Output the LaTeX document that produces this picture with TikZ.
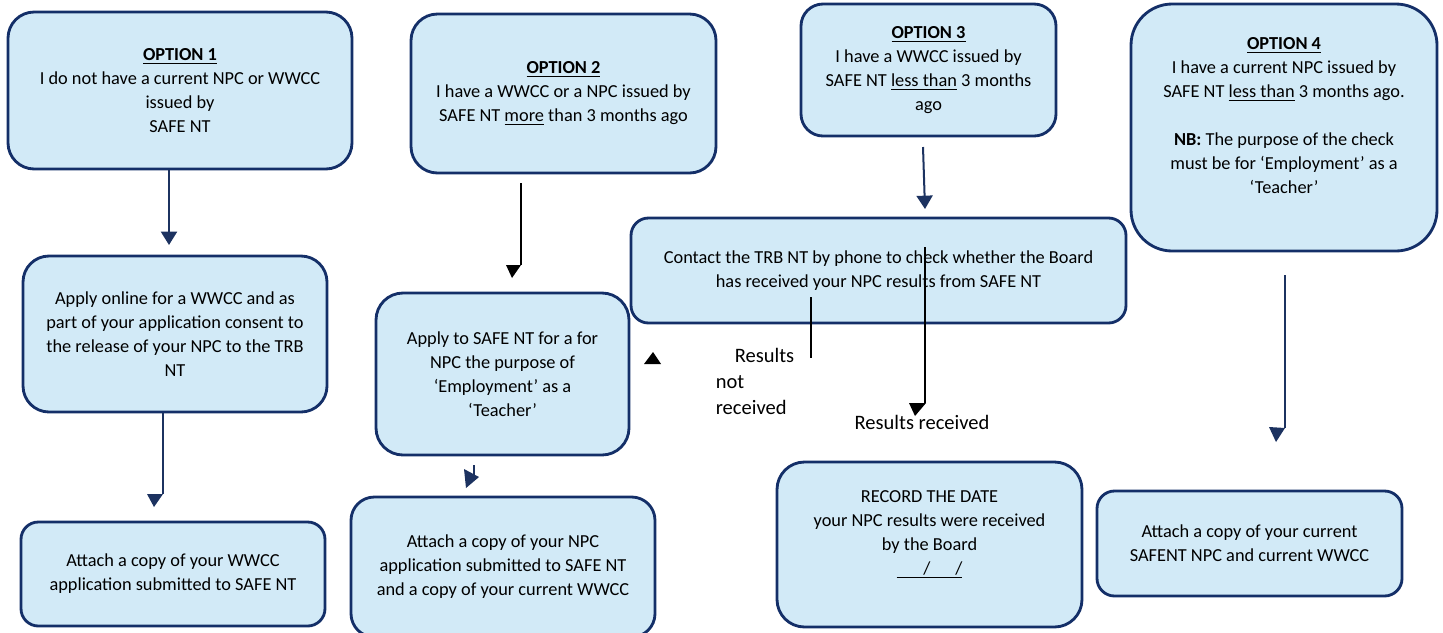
\documentclass[tikz,border=0pt]{standalone}
\usepackage{fontspec}
\setmainfont{Carlito}
\usetikzlibrary{arrows.meta}
\definecolor{boxfill}{HTML}{D2EAF7}
\definecolor{boxline}{HTML}{142F68}
\definecolor{arrnavy}{HTML}{1C3260}
\begin{document}
\begin{tikzpicture}[x=0.6pt,y=-0.6pt,
  pbox/.style={draw=boxline, fill=boxfill, line width=1.7pt, align=center, inner sep=0pt, font=\fontsize{11}{14.4}\selectfont},
  lbl/.style={align=left, inner sep=0pt, font=\fontsize{12.3}{15.6}\selectfont},
  navyline/.style={draw=arrnavy, line width=1.2pt},
  thinline/.style={draw=black, line width=0.7pt},
  navyhead/.style={-{Triangle[width=9.6pt,length=8pt]}}]
\useasboundingbox (0,0) rectangle (1443,632);
\clip (0,0) rectangle (1443,632);

% boxes
\node[pbox, minimum width=206.4pt, minimum height=94.2pt, rounded corners=15.7pt] (O1) at (180,90.5)
  {\textbf{\underline{OPTION 1}}\\I do not have a current NPC or WWCC\\issued by\\SAFE NT};
\node[pbox, minimum width=182.4pt, minimum height=93.6pt, rounded corners=15.6pt] (A1) at (175,334)
  {Apply online for a WWCC and as\\part of your application consent to\\the release of your NPC to the TRB\\NT};
\node[pbox, minimum width=182.4pt, minimum height=62.4pt, rounded corners=10.4pt] (B1) at (173,574)
  {Attach a copy of your WWCC\\application submitted to SAFE NT};
\node[pbox, minimum width=183pt, minimum height=95.4pt, rounded corners=15.9pt] (O2) at (563.5,93.5)
  {\textbf{\underline{OPTION 2}}\\I have a WWCC or a NPC issued by\\SAFE NT \underline{more} than 3 months ago};
\node[pbox, minimum width=151.8pt, minimum height=97.2pt, rounded corners=16.2pt] (A2) at (502.5,374)
  {Apply to SAFE NT for a for\\NPC the purpose of\\‘Employment’ as a\\‘Teacher’};
\node[pbox, minimum width=182.4pt, minimum height=84pt, rounded corners=14pt] (B2) at (503,567)
  {Attach a copy of your NPC\\application submitted to SAFE NT\\and a copy of your current WWCC};
\node[pbox, minimum width=153pt, minimum height=79.2pt, rounded corners=13.2pt] (O3) at (928.5,70)
  {\textbf{\underline{OPTION 3}}\\I have a WWCC issued by\\SAFE NT \underline{less than} 3 months\\ago};
\node[pbox, minimum width=297pt, minimum height=63pt, rounded corners=10.5pt] (C) at (878.5,270.5)
  {Contact the TRB NT by phone to check whether the Board\\has received your NPC results from SAFE NT};
\node[pbox, minimum width=183pt, minimum height=99pt, rounded corners=16.5pt] (R) at (929.5,544.5)
  {RECORD THE DATE\\your NPC results were received\\by the Board\\\underline{\hspace{16pt}/\hspace{15pt}/}\\\mbox{}};
\node[pbox, minimum width=183.6pt, minimum height=148.2pt, rounded corners=24.7pt] (O4) at (1284,127.5)
  {\textbf{\underline{OPTION 4}}\\I have a current NPC issued by\\SAFE NT \underline{less than} 3 months ago.\\[14.4pt]\textbf{NB:} The purpose of the check\\must be for ‘Employment’ as a\\‘Teacher’\\\mbox{}};
\node[pbox, minimum width=183pt, minimum height=63pt, rounded corners=10.5pt] (B4) at (1249.5,543.5)
  {Attach a copy of your current\\SAFENT NPC and current WWCC};

% labels
\node[lbl] (nr) at (755,381) {\hspace{11.4pt}Results\\not\\received};
\node[lbl] (rr) at (922,422) {Results received};

% connector end points
\coordinate (t1) at (169,245);
\coordinate (e2) at (163,494);
\coordinate (s3) at (521,183);
\coordinate (e3) at (521,265);
\coordinate (s4) at (474,465);
\coordinate (e4) at (474,475);
\coordinate (s5) at (923,147);
\coordinate (t5) at (925,209);
\coordinate (s6) at (811,297);
\coordinate (e6) at (811,358);
\coordinate (s7) at (925,247);
\coordinate (e7) at (925,403);
\coordinate (s8) at (1285,275);
\coordinate (e8) at (1285,428);

% connectors
\draw[navyline, navyhead] (O1.south -| t1) -- (t1);
\draw[navyline] (A1.south -| e2) -- (e2);
\fill[arrnavy, shift={(e2)}] (-16,0) -- (0,0) -- (-9,13) -- cycle;
\draw[thinline] (s3) -- (e3);
\fill[black, shift={(e3)}] (-15,0) -- (0,0) -- (-9,13) -- cycle;
\draw[navyline] (s4) -- (e4);
\fill[arrnavy] (464,469) -- (466,488) -- (479,477) -- cycle;
\draw[navyline, navyhead] (s5) -- (t5);
\draw[thinline] (s6) -- (e6);
\fill[black] (644,364) -- (653,352) -- (661,364) -- cycle;
\draw[thinline] (s7) -- (e7);
\fill[black, shift={(e7)}] (-16,0) -- (1,0) -- (-10,13) -- cycle;
\draw[navyline] (s8) -- (e8);
\fill[arrnavy, shift={(e8)}] (-16,-1) -- (0,0) -- (-9,14) -- cycle;
\end{tikzpicture}
\end{document}
